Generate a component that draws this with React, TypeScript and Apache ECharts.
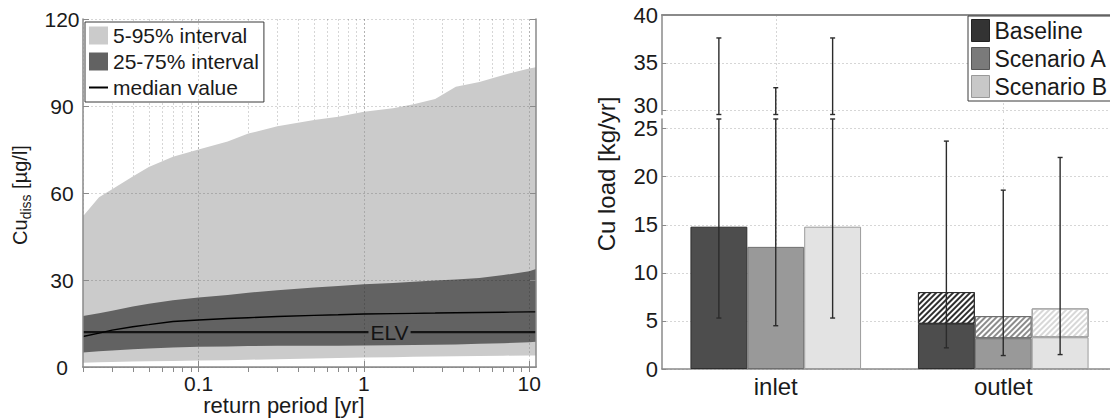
import { useEffect, useRef } from 'react';
import * as echarts from 'echarts';

// ---- Dissolved copper vs. return period -------------------------------
const RETURN_PERIOD = [0.02, 0.025, 0.03, 0.04, 0.05, 0.07, 0.1, 0.15, 0.2, 0.3, 0.5, 0.7, 1, 1.5, 2, 2.7, 3.6, 5, 7, 10, 11];
const P05 = [1.5, 1.6, 1.7, 1.9, 2.0, 2.1, 2.2, 2.3, 2.5, 2.7, 2.9, 3.1, 3.3, 3.4, 3.5, 3.6, 3.7, 3.8, 3.9, 4.0, 4.0];
const P25 = [5.0, 5.4, 5.7, 6.1, 6.4, 6.7, 7.0, 7.1, 7.2, 7.3, 7.3, 7.3, 7.4, 7.5, 7.6, 7.7, 7.8, 8.0, 8.2, 8.5, 8.7];
const MEDIAN = [10.5, 11.7, 12.7, 13.9, 14.6, 15.7, 16.2, 16.7, 17.0, 17.4, 17.8, 18.0, 18.3, 18.4, 18.5, 18.6, 18.7, 18.8, 18.9, 19.0, 19.0];
const P75 = [17.6, 18.5, 19.4, 20.9, 21.8, 23.0, 24.0, 24.8, 25.6, 26.5, 27.4, 27.9, 28.5, 29.0, 29.4, 29.8, 30.2, 30.7, 31.7, 33.0, 33.8];
const P95 = [52, 58.5, 61.3, 65.7, 69, 72.5, 75, 77.8, 80.5, 83, 85.2, 86.3, 88, 89.2, 90.6, 92.4, 96.6, 98.3, 100.7, 102.9, 103.4];
const ELV = 12;
const ELV_LABEL_PERIOD = 1.43;

const PERIOD_RANGE = [0.02, 11];
const PERIOD_MAJOR_TICKS = [0.1, 1, 10];
const PERIOD_ALL_TICKS = [
  0.02, 0.03, 0.04, 0.05, 0.06, 0.07, 0.08, 0.09, 0.1,
  0.2, 0.3, 0.4, 0.5, 0.6, 0.7, 0.8, 0.9, 1,
  2, 3, 4, 5, 6, 7, 8, 9, 10,
];
const CONC_RANGE = [0, 120];
const CONC_STEP = 30;

// ---- Copper loads per site and scenario -------------------------------
const SITES = ['inlet', 'outlet'];
const SCENARIOS = ['Baseline', 'Scenario A', 'Scenario B'];
const LOAD_SOLID = [[14.8, 4.7], [12.7, 3.2], [14.8, 3.3]];
const LOAD_TOTAL = [[14.8, 8.0], [12.7, 5.5], [14.8, 6.3]];
const LOAD_ERR_LOW = [[5.3, 2.2], [4.5, 1.4], [5.3, 1.5]];
const LOAD_ERR_HIGH = [[37.6, 23.7], [32.4, 18.6], [37.6, 22.0]];
const LOAD_LOWER_RANGE = [0, 26];
const LOAD_UPPER_RANGE = [29.6, 40];
const LOAD_LOWER_TICKS = [0, 5, 10, 15, 20, 25];
const LOAD_UPPER_TICKS = [30, 35, 40];

const FONT = 'Liberation Sans, Arial, sans-serif';
const AXIS_GRAY = '#8a8a8a';
const GRID_LINE = 'rgba(0,0,0,0.16)';
const TEXT = '#1a1a1a';
const BAND_OUTER = '#cbcbcb';
const BAND_INNER = '#626262';

const BAR_FILL = ['#4d4d4d', '#999999', '#e3e3e3'];
const BAR_EDGE = ['#2e2e2e', '#6e6e6e', '#9c9c9c'];
const HATCH_STRIPE = ['#2e2e2e', '#8c8c8c', '#d8d8d8'];
const LEGEND_FILL = ['#333333', '#7a7a7a', '#c8c8c8'];
const LEGEND_EDGE = ['#222222', '#555555', '#999999'];
const BAR_SHARE = 0.25; // width of one bar as a share of the category band

function errorBars(range: number[]) {
  return (_params: any, api: any) => {
    const cat = api.value(0);
    const s = api.value(1);
    const lo = Math.max(api.value(2), range[0]);
    const hi = Math.min(api.value(3), range[1]);
    if (hi <= lo) return null;
    const band = api.size([1, 0])[0];
    const x = api.coord([cat, lo])[0] + (s - (SCENARIOS.length - 1) / 2) * band * BAR_SHARE;
    const yLo = api.coord([cat, lo])[1];
    const yHi = api.coord([cat, hi])[1];
    const cap = 2.5;
    const style = { stroke: '#2b2b2b', lineWidth: 1.4 };
    return {
      type: 'group',
      children: [
        { type: 'line', shape: { x1: x, y1: yLo, x2: x, y2: yHi }, style },
        { type: 'line', shape: { x1: x - cap, y1: yLo, x2: x + cap, y2: yLo }, style },
        { type: 'line', shape: { x1: x - cap, y1: yHi, x2: x + cap, y2: yHi }, style },
      ],
    };
  };
}

// filled area from the x axis up to a percentile curve; bands come from overlaying these
function percentileArea(name: string, values: number[], color: string) {
  return {
    type: 'line',
    name,
    xAxisIndex: 0,
    yAxisIndex: 0,
    data: RETURN_PERIOD.map((t, i) => [t, values[i]]),
    symbol: 'none',
    lineStyle: { opacity: 0, width: 0 },
    areaStyle: { color, opacity: 1, origin: 'start' },
    silent: true,
  };
}

export default function App() {
  const ref = useRef<HTMLDivElement>(null);

  useEffect(() => {
    if (!ref.current) return;
    const chart = echarts.init(ref.current, undefined, { renderer: 'svg' });

    const errRows = SITES.flatMap((_, c) =>
      SCENARIOS.map((_, s) => [c, s, LOAD_ERR_LOW[s][c], LOAD_ERR_HIGH[s][c]])
    );

    const barSeries: any[] = [];
    SCENARIOS.forEach((name, s) => {
      barSeries.push({
        type: 'bar',
        name,
        xAxisIndex: 4,
        yAxisIndex: 3,
        stack: name,
        barGap: '0%',
        barCategoryGap: '25%',
        data: LOAD_SOLID[s],
        itemStyle: { color: BAR_FILL[s], borderColor: BAR_EDGE[s], borderWidth: 1 },
        silent: true,
      });
      barSeries.push({
        type: 'bar',
        name: name + ' (hatched)',
        xAxisIndex: 4,
        yAxisIndex: 3,
        stack: name,
        barGap: '0%',
        barCategoryGap: '25%',
        data: LOAD_TOTAL[s].map((v, c) => {
          const d = +(v - LOAD_SOLID[s][c]).toFixed(3);
          return d > 0 ? d : '-';
        }),
        itemStyle: {
          color: '#ffffff',
          borderColor: BAR_EDGE[s],
          borderWidth: 1,
          decal: {
            symbol: 'rect',
            symbolSize: 1,
            symbolKeepAspect: false,
            color: HATCH_STRIPE[s],
            dashArrayX: [1, 0],
            dashArrayY: [2, 2],
            rotation: -Math.PI / 4,
          },
        },
        silent: true,
      });
    });

    const option: any = {
      animation: false,
      textStyle: { fontFamily: FONT, color: TEXT },
      grid: [
        { left: 83, top: 19, width: 453, height: 348, outerBoundsMode: 'none' },
        { left: 662, top: 15, width: 455, height: 99.5, outerBoundsMode: 'none' },
        { left: 662, top: 119, width: 455, height: 250, outerBoundsMode: 'none' },
      ],
      legend: [
        {
          left: 85,
          top: 22,
          orient: 'vertical',
          selectedMode: false,
          backgroundColor: '#ffffff',
          borderColor: '#3a3a3a',
          borderWidth: 1,
          padding: [3, 5, 4, 3],
          itemGap: 5,
          itemWidth: 19,
          itemHeight: 18,
          textStyle: { fontSize: 21, lineHeight: 21, color: TEXT, fontFamily: FONT },
          data: [
            { name: '5-95% interval', icon: 'rect', itemStyle: { color: BAND_OUTER, borderWidth: 0, opacity: 1 } },
            { name: '25-75% interval', icon: 'rect', itemStyle: { color: BAND_INNER, borderWidth: 0, opacity: 1 } },
            { name: 'median value', itemStyle: { opacity: 0 } },
          ],
        },
        {
          left: 968,
          top: 16,
          orient: 'vertical',
          selectedMode: false,
          backgroundColor: '#ffffff',
          borderColor: '#3a3a3a',
          borderWidth: 1,
          padding: [3, 30, 3, 3],
          itemGap: 5,
          itemWidth: 18,
          itemHeight: 22,
          textStyle: { fontSize: 23, lineHeight: 23, color: TEXT, fontFamily: FONT },
          data: SCENARIOS.map((name, s) => ({
            name,
            icon: 'rect',
            itemStyle: { color: LEGEND_FILL[s], borderColor: LEGEND_EDGE[s], borderWidth: 1, opacity: 1 },
          })),
        },
      ],
      xAxis: [
        {
          // return period, bottom edge: labels, major ticks and major grid drawn above the bands
          type: 'log',
          logBase: 10,
          gridIndex: 0,
          position: 'bottom',
          min: PERIOD_RANGE[0],
          max: PERIOD_RANGE[1],
          z: 10,
          axisLine: { show: true, lineStyle: { color: AXIS_GRAY, width: 1.5 } },
          axisTick: { show: true, inside: true, length: 6, customValues: PERIOD_MAJOR_TICKS, lineStyle: { color: AXIS_GRAY } },
          axisLabel: {
            customValues: PERIOD_MAJOR_TICKS,
            fontSize: 21,
            margin: 6,
            color: TEXT,
            formatter: (v: number) => String(+Number(v).toPrecision(3)),
          },
          splitLine: { show: true, lineStyle: { color: GRID_LINE, type: [2, 2] } },
          minorTick: { show: false },
        },
        {
          // return period, top edge: minor ticks and the fine grid beneath the bands
          type: 'log',
          logBase: 10,
          gridIndex: 0,
          position: 'top',
          min: PERIOD_RANGE[0],
          max: PERIOD_RANGE[1],
          axisLine: { show: true, lineStyle: { color: AXIS_GRAY, width: 1.5 } },
          axisTick: { show: true, inside: true, length: 5, customValues: PERIOD_ALL_TICKS, lineStyle: { color: AXIS_GRAY } },
          axisLabel: { show: false },
          splitLine: { show: true, lineStyle: { color: GRID_LINE, type: [2, 2] } },
        },
        {
          // load chart, upper part frame
          type: 'value',
          gridIndex: 1,
          position: 'top',
          min: -0.5,
          max: 1.5,
          axisLine: { show: true, onZero: false, lineStyle: { color: AXIS_GRAY, width: 2 } },
          axisTick: { show: false, customValues: [0, 1] },
          axisLabel: { show: false },
          splitLine: { show: true, lineStyle: { color: GRID_LINE, type: [2, 2] } },
        },
        {
          // load chart, lower part: grid at category centres and error bar placement
          type: 'value',
          gridIndex: 2,
          position: 'top',
          min: -0.5,
          max: 1.5,
          axisLine: { show: false },
          axisTick: { show: false, customValues: [0, 1] },
          axisLabel: { show: false },
          splitLine: { show: true, lineStyle: { color: GRID_LINE, type: [2, 2] } },
        },
        {
          type: 'category',
          gridIndex: 2,
          position: 'bottom',
          data: SITES,
          axisLine: { show: true, onZero: false, lineStyle: { color: AXIS_GRAY, width: 1.5 } },
          axisTick: { show: false },
          axisLabel: { fontSize: 24, margin: 5, color: TEXT },
          splitLine: { show: false },
        },
      ],
      yAxis: [
        {
          type: 'value',
          gridIndex: 0,
          position: 'left',
          min: CONC_RANGE[0],
          max: CONC_RANGE[1],
          interval: CONC_STEP,
          z: 10,
          axisLine: { show: true, lineStyle: { color: AXIS_GRAY, width: 1.5 } },
          axisTick: { show: true, inside: true, length: 6, lineStyle: { color: AXIS_GRAY } },
          axisLabel: { fontSize: 21, align: 'center', margin: 21, color: TEXT },
          splitLine: { show: true, lineStyle: { color: GRID_LINE, type: [2, 2] } },
        },
        {
          type: 'value',
          gridIndex: 0,
          position: 'right',
          min: CONC_RANGE[0],
          max: CONC_RANGE[1],
          interval: CONC_STEP,
          z: 10,
          axisLine: { show: true, lineStyle: { color: AXIS_GRAY, width: 1.5 } },
          axisTick: { show: true, inside: true, length: 6, lineStyle: { color: AXIS_GRAY } },
          axisLabel: { show: false },
          splitLine: { show: false },
        },
        {
          type: 'value',
          gridIndex: 1,
          position: 'left',
          min: LOAD_UPPER_RANGE[0],
          max: LOAD_UPPER_RANGE[1],
          axisLine: { show: true, onZero: false, lineStyle: { color: AXIS_GRAY, width: 1.5 } },
          axisTick: { show: true, inside: true, length: 4, customValues: LOAD_UPPER_TICKS, lineStyle: { color: AXIS_GRAY } },
          axisLabel: {
            customValues: LOAD_UPPER_TICKS,
            fontSize: 22,
            margin: 4,
            color: TEXT,
            // the lowest label sits a little above its tick, clear of the axis break
            formatter: (v: number) => (v === LOAD_UPPER_TICKS[0] ? `{low|${v}}` : `${v}`),
            rich: { low: { fontSize: 22, fontFamily: FONT, color: TEXT, padding: [0, 0, 10, 0] } },
          },
          splitLine: { show: true, lineStyle: { color: GRID_LINE, type: [2, 2] } },
        },
        {
          type: 'value',
          gridIndex: 2,
          position: 'left',
          min: LOAD_LOWER_RANGE[0],
          max: LOAD_LOWER_RANGE[1],
          axisLine: { show: true, onZero: false, lineStyle: { color: AXIS_GRAY, width: 1.5 } },
          axisTick: { show: true, inside: true, length: 4, customValues: LOAD_LOWER_TICKS, lineStyle: { color: AXIS_GRAY } },
          axisLabel: { customValues: LOAD_LOWER_TICKS, fontSize: 22, margin: 4, color: TEXT },
          splitLine: { show: true, lineStyle: { color: GRID_LINE, type: [2, 2] } },
        },
      ],
      series: [
        percentileArea('5-95% interval', P95, BAND_OUTER),
        percentileArea('25-75% interval', P75, BAND_INNER),
        percentileArea('p25', P25, BAND_OUTER),
        percentileArea('p5', P05, '#ffffff'),
        {
          type: 'line',
          name: 'ELV',
          xAxisIndex: 0,
          yAxisIndex: 0,
          data: RETURN_PERIOD.map((t) => [t, ELV]),
          symbol: 'none',
          lineStyle: { color: '#141414', width: 2.2 },
          silent: true,
          markPoint: {
            silent: true,
            symbol: 'rect',
            symbolSize: 1,
            itemStyle: { color: 'rgba(0,0,0,0)' },
            label: {
              show: true,
              position: 'inside',
              formatter: 'ELV',
              fontSize: 21,
              fontFamily: FONT,
              color: '#141414',
              backgroundColor: BAND_INNER,
              padding: [0, 2],
            },
            data: [{ coord: [ELV_LABEL_PERIOD, ELV] }],
          },
        },
        {
          type: 'line',
          name: 'median value',
          xAxisIndex: 0,
          yAxisIndex: 0,
          data: RETURN_PERIOD.map((t, i) => [t, MEDIAN[i]]),
          symbol: 'none',
          lineStyle: { color: '#000000', width: 1.4 },
          itemStyle: { color: '#000000' },
          silent: true,
        },
        ...barSeries,
        {
          type: 'custom',
          name: 'error upper',
          xAxisIndex: 2,
          yAxisIndex: 2,
          z: 5,
          silent: true,
          renderItem: errorBars(LOAD_UPPER_RANGE),
          encode: { x: 0, y: [2, 3] },
          data: errRows,
        },
        {
          type: 'custom',
          name: 'error lower',
          xAxisIndex: 3,
          yAxisIndex: 3,
          z: 5,
          silent: true,
          renderItem: errorBars(LOAD_LOWER_RANGE),
          encode: { x: 0, y: [2, 3] },
          data: errRows,
        },
      ],
      graphic: [
        {
          type: 'text',
          x: 284,
          y: 405,
          style: {
            text: 'return period [yr]',
            fontSize: 22,
            fontFamily: FONT,
            fill: TEXT,
            align: 'center',
            verticalAlign: 'middle',
            textAlign: 'center',
            textVerticalAlign: 'middle',
          },
        },
        {
          type: 'text',
          x: 20,
          y: 195,
          rotation: Math.PI / 2,
          style: {
            text: '{a|Cu}{b|diss}{a| [µg/l]}',
            fontFamily: FONT,
            fill: TEXT,
            align: 'center',
            verticalAlign: 'middle',
            textAlign: 'center',
            textVerticalAlign: 'middle',
            rich: {
              a: { fontSize: 20, lineHeight: 26, verticalAlign: 'middle', fontFamily: FONT, fill: TEXT },
              b: { fontSize: 14, lineHeight: 14, verticalAlign: 'bottom', fontFamily: FONT, fill: TEXT },
            },
          },
        },
        {
          type: 'text',
          x: 606,
          y: 174,
          rotation: Math.PI / 2,
          style: {
            text: 'Cu load [kg/yr]',
            fontSize: 24,
            fontFamily: FONT,
            fill: TEXT,
            align: 'center',
            verticalAlign: 'middle',
            textAlign: 'center',
            textVerticalAlign: 'middle',
          },
        },
      ],
    };

    chart.setOption(option);
    return () => chart.dispose();
  }, []);

  return (
    <div
      ref={ref}
      style={{ position: 'fixed', left: 0, top: 0, width: 1110, height: 420, background: '#ffffff' }}
    />
  );
}
